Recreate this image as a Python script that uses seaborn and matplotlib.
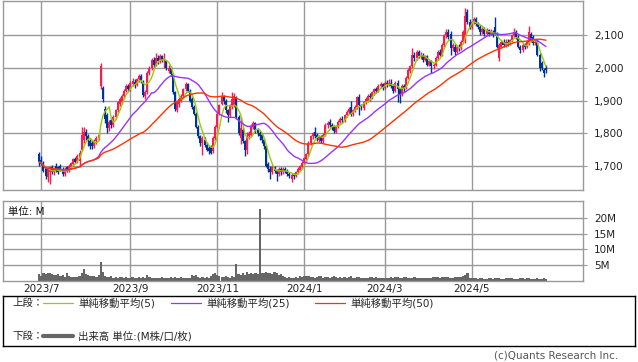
import numpy as np
import pandas as pd
import seaborn as sns
import matplotlib.pyplot as plt

sns.set_style('white')
plt.rcParams['font.family'] = ['DejaVu Sans', 'Noto Sans CJK JP']

# daily prices, 2023/6/30 .. 2024/6/21
opens = [
    1735, 1718, 1710, 1690, 1665, 1680, 1695, 1680, 1700, 1695,
    1700, 1690, 1675, 1695, 1685, 1695, 1705, 1722, 1712, 1715,
    1750, 1780, 1805, 1790, 1775, 1770, 1760, 1775, 1785, 1945,
    1940, 1875, 1855, 1815, 1840, 1825, 1850, 1870, 1890, 1895,
    1915, 1930, 1945, 1935, 1950, 1958, 1948, 1965, 1975, 1958,
    1915, 1925, 1985, 2000, 2025, 2010, 2030, 2020, 2035, 2025,
    2020, 1990, 2000, 1980, 1925, 1870, 1890, 1900, 1915, 1935,
    1950, 1930, 1905, 1880, 1860, 1820, 1790, 1770, 1780, 1765,
    1755, 1760, 1745, 1785, 1820, 1860, 1890, 1910, 1900, 1870,
    1855, 1880, 1885, 1910, 1850, 1785, 1810, 1775, 1750, 1790,
    1795, 1820, 1830, 1810, 1800, 1795, 1780, 1760, 1705, 1690,
    1680, 1695, 1685, 1675, 1690, 1680, 1690, 1685, 1675, 1660,
    1672, 1670, 1680, 1688, 1695, 1710, 1722, 1735, 1770, 1790,
    1805, 1795, 1780, 1790, 1775, 1795, 1825, 1835, 1825, 1820,
    1805, 1820, 1835, 1845, 1840, 1855, 1865, 1880, 1860, 1870,
    1880, 1910, 1885, 1878, 1895, 1900, 1915, 1910, 1925, 1935,
    1930, 1945, 1950, 1940, 1955, 1950, 1955, 1945, 1930, 1955,
    1935, 1920, 1945, 1940, 1970, 1990, 2005, 2040, 2030, 2050,
    2035, 2040, 2025, 2035, 2010, 2020, 2005, 2010, 2030, 2050,
    2040, 2070, 2100, 2110, 2105, 2060, 2065, 2050, 2065, 2060,
    2080, 2090, 2170, 2140, 2125, 2140, 2150, 2135, 2125, 2110,
    2120, 2105, 2115, 2105, 2110, 2125, 2105, 2030, 2065, 2080,
    2070, 2080, 2075, 2085, 2100, 2110, 2095, 2065, 2055, 2070,
    2065, 2075, 2105, 2095, 2075, 2080, 2040, 2015, 1995, 2000,
]
highs = [
    1742, 1730, 1715, 1695, 1695, 1700, 1702, 1695, 1708, 1700,
    1706, 1695, 1695, 1700, 1705, 1712, 1725, 1728, 1735, 1748,
    1820, 1820, 1812, 1798, 1782, 1778, 1782, 1790, 1800, 2015,
    1945, 1882, 1862, 1840, 1848, 1855, 1875, 1900, 1910, 1920,
    1935, 1950, 1952, 1960, 1968, 1965, 1970, 1982, 1980, 1962,
    1932, 1990, 2005, 2030, 2032, 2045, 2040, 2042, 2040, 2045,
    2025, 2008, 2005, 1985, 1930, 1900, 1910, 1920, 1940, 1958,
    1955, 1935, 1910, 1885, 1865, 1825, 1795, 1792, 1788, 1772,
    1762, 1765, 1790, 1825, 1865, 1890, 1925, 1918, 1905, 1875,
    1890, 1925, 1922, 1915, 1855, 1850, 1815, 1780, 1805, 1808,
    1828, 1838, 1835, 1815, 1806, 1800, 1785, 1765, 1712, 1698,
    1702, 1700, 1690, 1695, 1695, 1695, 1695, 1690, 1682, 1678,
    1678, 1685, 1695, 1702, 1715, 1728, 1740, 1775, 1795, 1805,
    1820, 1800, 1795, 1795, 1800, 1830, 1838, 1845, 1832, 1825,
    1825, 1840, 1850, 1852, 1860, 1870, 1880, 1900, 1875, 1885,
    1915, 1920, 1890, 1900, 1910, 1920, 1922, 1930, 1940, 1942,
    1950, 1958, 1955, 1960, 1962, 1965, 1965, 1950, 1960, 1962,
    1940, 1950, 1952, 1975, 2000, 2010, 2060, 2048, 2055, 2055,
    2048, 2045, 2040, 2040, 2025, 2025, 2015, 2035, 2055, 2058,
    2075, 2105, 2120, 2118, 2112, 2075, 2072, 2070, 2072, 2085,
    2115, 2185, 2180, 2150, 2145, 2155, 2155, 2142, 2130, 2125,
    2125, 2122, 2120, 2118, 2115, 2155, 2110, 2075, 2085, 2090,
    2088, 2088, 2090, 2105, 2122, 2115, 2100, 2070, 2075, 2075,
    2085, 2128, 2110, 2100, 2088, 2085, 2045, 2020, 2000, 2008,
]
lows = [
    1700, 1702, 1680, 1660, 1650, 1645, 1675, 1672, 1680, 1675,
    1685, 1668, 1670, 1680, 1680, 1690, 1700, 1708, 1708, 1695,
    1745, 1770, 1780, 1760, 1752, 1752, 1755, 1768, 1778, 1935,
    1895, 1830, 1800, 1808, 1815, 1820, 1845, 1865, 1882, 1890,
    1905, 1925, 1928, 1930, 1945, 1940, 1945, 1958, 1955, 1912,
    1905, 1920, 1978, 1995, 2000, 2005, 2012, 2015, 2018, 2000,
    1995, 1985, 1975, 1920, 1868, 1865, 1880, 1895, 1910, 1930,
    1925, 1895, 1875, 1855, 1815, 1785, 1762, 1732, 1758, 1745,
    1735, 1735, 1740, 1780, 1815, 1855, 1885, 1890, 1862, 1835,
    1850, 1875, 1880, 1845, 1795, 1768, 1770, 1730, 1735, 1782,
    1790, 1812, 1802, 1790, 1780, 1770, 1752, 1695, 1682, 1660,
    1675, 1678, 1655, 1670, 1672, 1675, 1678, 1668, 1662, 1650,
    1660, 1665, 1675, 1684, 1690, 1705, 1718, 1730, 1765, 1782,
    1785, 1775, 1772, 1770, 1770, 1790, 1815, 1818, 1810, 1800,
    1800, 1815, 1830, 1832, 1835, 1850, 1858, 1852, 1852, 1865,
    1875, 1855, 1870, 1872, 1890, 1895, 1900, 1905, 1918, 1922,
    1925, 1940, 1932, 1935, 1942, 1945, 1940, 1922, 1925, 1895,
    1893, 1915, 1925, 1935, 1965, 1985, 2000, 2022, 2025, 2030,
    2028, 2018, 2020, 2005, 2005, 1985, 1998, 2005, 2025, 2035,
    2035, 2065, 2092, 2088, 2040, 2052, 2040, 2045, 2052, 2055,
    2075, 2075, 2135, 2118, 2120, 2135, 2128, 2118, 2100, 2105,
    2098, 2100, 2098, 2100, 2095, 2100, 2060, 2020, 2060, 2065,
    2065, 2068, 2070, 2080, 2095, 2090, 2060, 2045, 2050, 2058,
    2060, 2070, 2080, 2070, 2070, 2035, 1990, 1995, 1972, 1985,
]
closes = [
    1712, 1705, 1685, 1670, 1690, 1695, 1680, 1690, 1685, 1680,
    1690, 1675, 1690, 1685, 1700, 1710, 1720, 1712, 1730, 1740,
    1795, 1805, 1790, 1775, 1760, 1760, 1775, 1785, 1795, 2005,
    1905, 1845, 1815, 1835, 1825, 1850, 1870, 1895, 1905, 1915,
    1930, 1945, 1935, 1955, 1960, 1948, 1965, 1975, 1960, 1918,
    1925, 1985, 2000, 2025, 2010, 2030, 2020, 2035, 2025, 2030,
    2000, 2000, 1980, 1925, 1875, 1895, 1905, 1915, 1935, 1950,
    1930, 1900, 1880, 1860, 1820, 1790, 1770, 1785, 1765, 1750,
    1745, 1740, 1785, 1820, 1860, 1885, 1910, 1900, 1870, 1855,
    1885, 1905, 1915, 1850, 1800, 1815, 1775, 1750, 1790, 1800,
    1820, 1830, 1810, 1800, 1790, 1780, 1760, 1700, 1690, 1680,
    1695, 1685, 1675, 1690, 1680, 1690, 1685, 1675, 1670, 1672,
    1668, 1680, 1690, 1698, 1710, 1725, 1735, 1770, 1790, 1800,
    1790, 1785, 1790, 1775, 1795, 1825, 1830, 1825, 1820, 1808,
    1820, 1835, 1845, 1840, 1855, 1865, 1875, 1860, 1870, 1880,
    1910, 1885, 1880, 1895, 1905, 1915, 1910, 1925, 1935, 1930,
    1945, 1950, 1940, 1955, 1950, 1955, 1945, 1930, 1955, 1935,
    1920, 1945, 1935, 1970, 1995, 2005, 2040, 2030, 2050, 2035,
    2040, 2025, 2035, 2010, 2020, 2005, 2010, 2030, 2050, 2040,
    2070, 2100, 2110, 2095, 2060, 2070, 2050, 2065, 2060, 2080,
    2110, 2160, 2140, 2125, 2140, 2150, 2135, 2125, 2110, 2120,
    2105, 2115, 2105, 2110, 2100, 2105, 2065, 2070, 2080, 2070,
    2080, 2075, 2085, 2100, 2110, 2095, 2065, 2055, 2070, 2065,
    2080, 2110, 2085, 2075, 2080, 2040, 2000, 2000, 1985, 1995,
]
# volume, millions of shares
volume = [
    2.2, 1.5, 2.6, 2.2, 2.4, 2.6, 2.2, 2.0, 1.8, 2.2,
    1.6, 2.0, 1.4, 2.5, 1.5, 1.2, 1.3, 1.2, 1.4, 1.6,
    2.4, 3.9, 2.2, 2.0, 1.7, 1.5, 1.6, 1.3, 2.0, 6.0,
    2.8, 1.5, 1.3, 1.2, 1.5, 1.1, 1.4, 1.0, 1.3, 1.2,
    1.0, 1.4, 1.1, 1.0, 1.2, 0.9, 1.1, 1.3, 1.0, 1.4,
    1.1, 2.0, 1.2, 1.0, 0.9, 1.1, 1.0, 0.9, 1.2, 0.8,
    1.0, 1.1, 1.3, 1.0, 1.2, 0.9, 1.0, 1.2, 1.0, 0.9,
    1.1, 1.0, 1.9, 1.7, 1.8, 1.2, 1.0, 1.4, 1.1, 1.3,
    1.0, 1.5, 2.2, 2.5, 2.0, 1.6, 1.2, 1.4, 1.5, 1.2,
    1.1, 1.6, 1.3, 5.3, 2.2, 1.8, 2.4, 2.0, 3.0, 2.2,
    2.5, 2.3, 2.4, 2.2, 22.9, 2.6, 2.4, 2.8, 2.5, 2.6,
    2.3, 2.7, 2.6, 2.0, 2.2, 1.5, 1.3, 1.0, 1.2, 1.1,
    0.9, 1.2, 1.0, 1.6, 1.4, 1.5, 1.7, 1.5, 1.3, 1.2,
    1.0, 1.2, 1.6, 1.6, 1.1, 1.2, 1.4, 1.0, 1.3, 1.5,
    1.2, 1.0, 1.4, 1.1, 1.3, 1.0, 1.2, 1.5, 1.1, 1.0,
    1.3, 1.2, 1.0, 0.9, 1.1, 1.0, 1.3, 1.4, 1.1, 1.2,
    1.0, 0.9, 1.1, 1.0, 0.8, 1.0, 1.2, 1.1, 1.4, 1.3,
    1.0, 1.1, 1.3, 1.2, 1.0, 0.9, 1.0, 1.2, 1.1, 1.0,
    0.9, 1.0, 1.1, 0.8, 0.9, 1.0, 1.2, 1.3, 1.4, 1.1,
    1.2, 1.3, 1.4, 1.2, 1.1, 1.0, 1.2, 1.3, 1.4, 1.2,
    1.6, 1.9, 2.6, 1.0, 0.8, 0.9, 0.8, 0.7, 0.9, 0.8,
    0.7, 0.6, 0.8, 0.9, 0.7, 0.8, 1.0, 0.9, 0.7, 0.6,
    0.8, 0.9, 1.0, 0.8, 0.7, 0.6, 0.7, 0.8, 0.9, 0.7,
    1.0, 0.8, 0.7, 0.6, 0.7, 0.9, 0.7, 0.6, 0.8, 0.7,
]
jp_holidays = ['2023-07-17', '2023-08-11', '2023-09-18', '2023-10-09',
               '2023-11-03', '2023-11-23', '2024-01-01', '2024-01-02',
               '2024-01-03', '2024-01-08', '2024-02-12', '2024-02-23',
               '2024-03-20', '2024-04-29', '2024-05-03', '2024-05-06']
month_labels = ['2023/7', '2023/9', '2023/11', '2024/1', '2024/3', '2024/5']
price_ticks = [1700, 1800, 1900, 2000, 2100]
vol_ticks = [5, 10, 15, 20]

df = pd.DataFrame({'open': opens, 'high': highs, 'low': lows,
                   'close': closes, 'volume': volume})
df['date'] = pd.bdate_range('2023-06-30', periods=len(df), freq='C',
                            holidays=jp_holidays)
df['i'] = np.arange(len(df))
df['ma5'] = df['close'].rolling(5, min_periods=1).mean()
df['ma25'] = df['close'].rolling(25, min_periods=1).mean()
df['ma50'] = df['close'].rolling(50, min_periods=1).mean()

# first trading day of each labelled month
ym = df['date'].dt.strftime('%Y/%-m')
month_pos = [int(df.loc[ym == m, 'i'].iloc[0]) for m in month_labels]

UP, DOWN = '#ff1a4d', '#003399'
GRID = '#999999'
W, H = 638, 362

fig = plt.figure(figsize=(W / 100, H / 100), dpi=100)
ax = fig.add_axes([3 / W, 1 - 190 / H, 580 / W, 189 / H])
axv = fig.add_axes([3 / W, 1 - 281 / H, 580 / W, 80 / H])

xlim = (-17.1, 256.5)

# price panel
up = df['close'] >= df['open']
col = np.where(up, UP, DOWN)
ax.vlines(df['i'], df['low'], df['high'], colors=col, lw=1.0, zorder=3)
ax.bar(df['i'], (df['close'] - df['open']).abs(),
       bottom=df[['open', 'close']].min(axis=1), width=0.95,
       color=col, linewidth=0, zorder=3)
sns.lineplot(data=df, x='i', y='ma5', ax=ax, color='#99cc00', lw=1.0, zorder=4)
sns.lineplot(data=df, x='i', y='ma25', ax=ax, color='#9933ff', lw=1.0, zorder=4)
sns.lineplot(data=df, x='i', y='ma50', ax=ax, color='#ff3300', lw=1.0, zorder=4)
ax.set_xlim(*xlim)
ax.set_ylim(1626, 2205)
ax.set_yticks(price_ticks)
ax.set_yticklabels([f'{v:,}' for v in price_ticks])
ax.set_xticks(month_pos)
ax.set_xticklabels([])

# volume panel
axv.bar(df['i'], df['volume'], width=1.0, color='#666666', linewidth=0)
axv.set_xlim(*xlim)
axv.set_ylim(0, 25.3)
axv.set_yticks(vol_ticks)
axv.set_yticklabels([f'{v}M' for v in vol_ticks])
axv.set_xticks(month_pos)
axv.set_xticklabels(month_labels)
axv.text(0.008, 0.92, '単位: M', transform=axv.transAxes, fontsize=7.5,
         va='top', ha='left', color='#111111')

for a in (ax, axv):
    a.set_xlabel('')
    a.set_ylabel('')
    a.yaxis.tick_right()
    a.grid(True, color=GRID, lw=1.0, zorder=0)
    a.set_axisbelow(True)
    for s in a.spines.values():
        s.set_color(GRID)
        s.set_linewidth(1.0)
    a.tick_params(axis='y', length=3, color=GRID, labelsize=7.5, pad=5,
                  labelcolor='#222222')
    a.tick_params(axis='x', length=0, labelsize=7.5, pad=2,
                  labelcolor='#222222')

# legend box
lg = fig.add_axes([3 / W, 1 - 346 / H, 632 / W, 50 / H])
lg.set_xlim(3, 635)
lg.set_ylim(346, 296)
lg.set_xticks([])
lg.set_yticks([])
for s in lg.spines.values():
    s.set_color('black')
    s.set_linewidth(1.0)
fs = 7.5
lg.text(12, 303, '上段：', fontsize=fs, va='center')
lg.plot([43, 73], [303, 303], color='#99cc00', lw=0.9)
lg.text(78, 303, '単純移動平均(5)', fontsize=fs, va='center')
lg.plot([171, 201], [303, 303], color='#9933ff', lw=0.9)
lg.text(206, 303, '単純移動平均(25)', fontsize=fs, va='center')
lg.plot([315, 345], [303, 303], color='#ff3300', lw=0.9)
lg.text(350, 303, '単純移動平均(50)', fontsize=fs, va='center')
lg.text(12, 336, '下段：', fontsize=fs, va='center')
lg.plot([43, 73], [336, 336], color='#666666', lw=3)
lg.text(78, 336, '出来高 単位:(M株/口/枚)', fontsize=fs, va='center')

fig.text(618 / W, 1 - 356 / H, '(c)Quants Research Inc.', fontsize=7.5,
         color='#555555', ha='right', va='center')

fig.savefig('out.png', dpi=100)
